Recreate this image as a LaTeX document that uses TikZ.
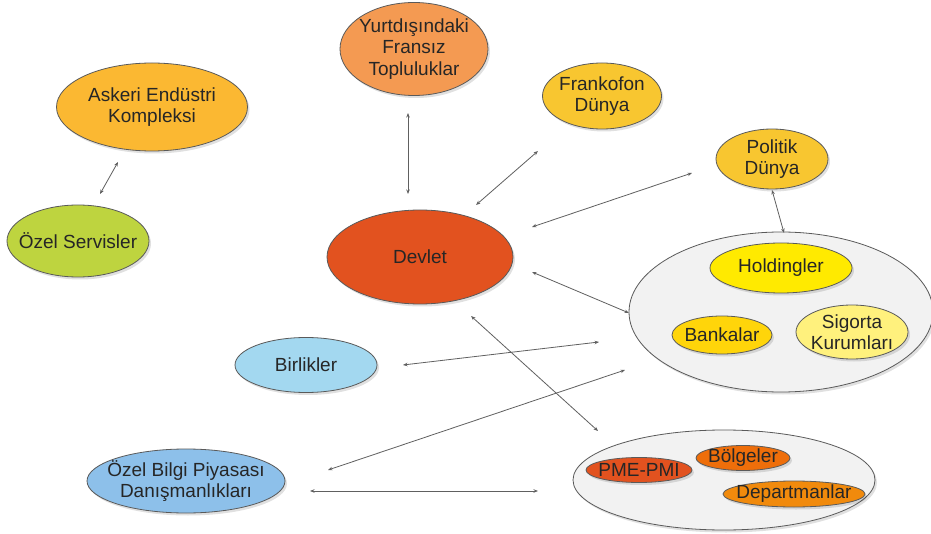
\documentclass[tikz,border=0pt]{standalone}
\usepackage{fontspec}
\setmainfont{Liberation Sans}
\usetikzlibrary{arrows.meta,shapes.geometric,shadows}
\definecolor{txt}{HTML}{262626}
\definecolor{bord}{HTML}{5A5A5A}
\definecolor{arr}{HTML}{606060}
\definecolor{cYurt}{HTML}{F49A52}
\definecolor{cAsk}{HTML}{FBB832}
\definecolor{cOzel}{HTML}{BED43F}
\definecolor{cDev}{HTML}{E2521F}
\definecolor{cGold}{HTML}{F8C630}
\definecolor{cGrp}{HTML}{F2F2F2}
\definecolor{cHold}{HTML}{FFEA00}
\definecolor{cBank}{HTML}{FFD50A}
\definecolor{cSig}{HTML}{FFF17D}
\definecolor{cBirl}{HTML}{A3D8F0}
\definecolor{cBilgi}{HTML}{8DC0EA}
\definecolor{cBolg}{HTML}{EE6E0A}
\definecolor{cDept}{HTML}{F18A0C}
\begin{document}
\begin{tikzpicture}[x=1pt,y=-1pt,
  bub/.style={ellipse, draw=bord, line width=0.8pt, inner sep=0pt,
    drop shadow={shadow xshift=2pt,shadow yshift=-2.5pt,fill=black,opacity=0.12}},
  lab/.style={align=center, inner sep=0pt, text=txt, font=\fontsize{19}{21.5}\selectfont},
  conn/.style={draw=arr, line width=0.8pt, {Stealth[length=4.5pt,width=3.5pt]}-{Stealth[length=4.5pt,width=3.5pt]}}]
\fill[white] (0,0) rectangle (931,534);
\useasboundingbox (0,0) rectangle (931,534);

\node[bub, fill=cYurt, minimum width=148, minimum height=93, label={[lab]center:{Yurtdışındaki\\Fransız\\Topluluklar}}] (yurt) at (414,49) {};
\node[bub, fill=cAsk, minimum width=191, minimum height=88, label={[lab]center:{Askeri Endüstri\\Kompleksi}}] (askeri) at (152,107) {};
\node[bub, fill=cOzel, minimum width=142, minimum height=72, label={[lab]center:{Özel Servisler}}] (ozel) at (78,241) {};
\node[bub, fill=cDev, minimum width=186, minimum height=94, label={[lab]center:{Devlet}}] (devlet) at (420,257) {};
\node[bub, fill=cGold, minimum width=119, minimum height=66, label={[lab]center:{Frankofon\\Dünya}}] (frank) at (602,96) {};
\node[bub, fill=cGold, minimum width=112, minimum height=60, label={[lab]center:{Politik\\Dünya}}] (politik) at (772,159) {};

\node[bub, fill=cGrp, minimum width=304, minimum height=160] (grp1) at (781,312) {};
\node[bub, fill=cHold, minimum width=142, minimum height=50, label={[lab]center:{Holdingler}}] (hold) at (781,268) {};
\node[bub, fill=cBank, minimum width=100, minimum height=38, label={[lab]center:{Bankalar}}] (bank) at (722,335) {};
\node[bub, fill=cSig, minimum width=112, minimum height=54, label={[lab]center:{Sigorta\\Kurumları}}] (sig) at (852,332) {};

\node[bub, fill=cBirl, minimum width=142, minimum height=55, label={[lab]center:{Birlikler}}] (birl) at (306,365) {};
\node[bub, fill=cBilgi, minimum width=198, minimum height=64, label={[lab]center:{Özel Bilgi Piyasası\\Danışmanlıkları}}] (bilgi) at (186,481) {};

\node[bub, fill=cGrp, minimum width=302, minimum height=100] (grp2) at (724,480) {};
\node[bub, fill=cDev, minimum width=106, minimum height=25, label={[lab]center:{PME-PMI}}] (pme) at (639,470) {};
\node[bub, fill=cBolg, minimum width=94, minimum height=25, label={[lab]center:{Bölgeler}}] (bolg) at (743,458) {};
\node[bub, fill=cDept, minimum width=142, minimum height=26, label={[lab]center:{Departmanlar}}] (dept) at (794,494) {};

\coordinate (a1) at (118,162); \coordinate (a2) at (100,194);
\coordinate (b1) at (408,113); \coordinate (b2) at (408,194);
\coordinate (c1) at (538,151); \coordinate (c2) at (476,205);
\coordinate (d1) at (692,173); \coordinate (d2) at (532,227);
\coordinate (e1) at (772,190); \coordinate (e2) at (784,233);
\coordinate (f1) at (532,272); \coordinate (f2) at (629,313);
\coordinate (g1) at (471,316); \coordinate (g2) at (598,431);
\coordinate (h1) at (403,365); \coordinate (h2) at (599,342);
\coordinate (i1) at (328,470); \coordinate (i2) at (625,370);
\coordinate (j1) at (310,491); \coordinate (j2) at (538,491);

\draw[conn] (a1) -- (a2);
\draw[conn] (b1) -- (b2);
\draw[conn] (c1) -- (c2);
\draw[conn] (d1) -- (d2);
\draw[conn] (e1) -- (e2);
\draw[conn] (f1) -- (f2);
\draw[conn] (g1) -- (g2);
\draw[conn] (h1) -- (h2);
\draw[conn] (i1) -- (i2);
\draw[conn] (j1) -- (j2);
\end{tikzpicture}
\end{document}
